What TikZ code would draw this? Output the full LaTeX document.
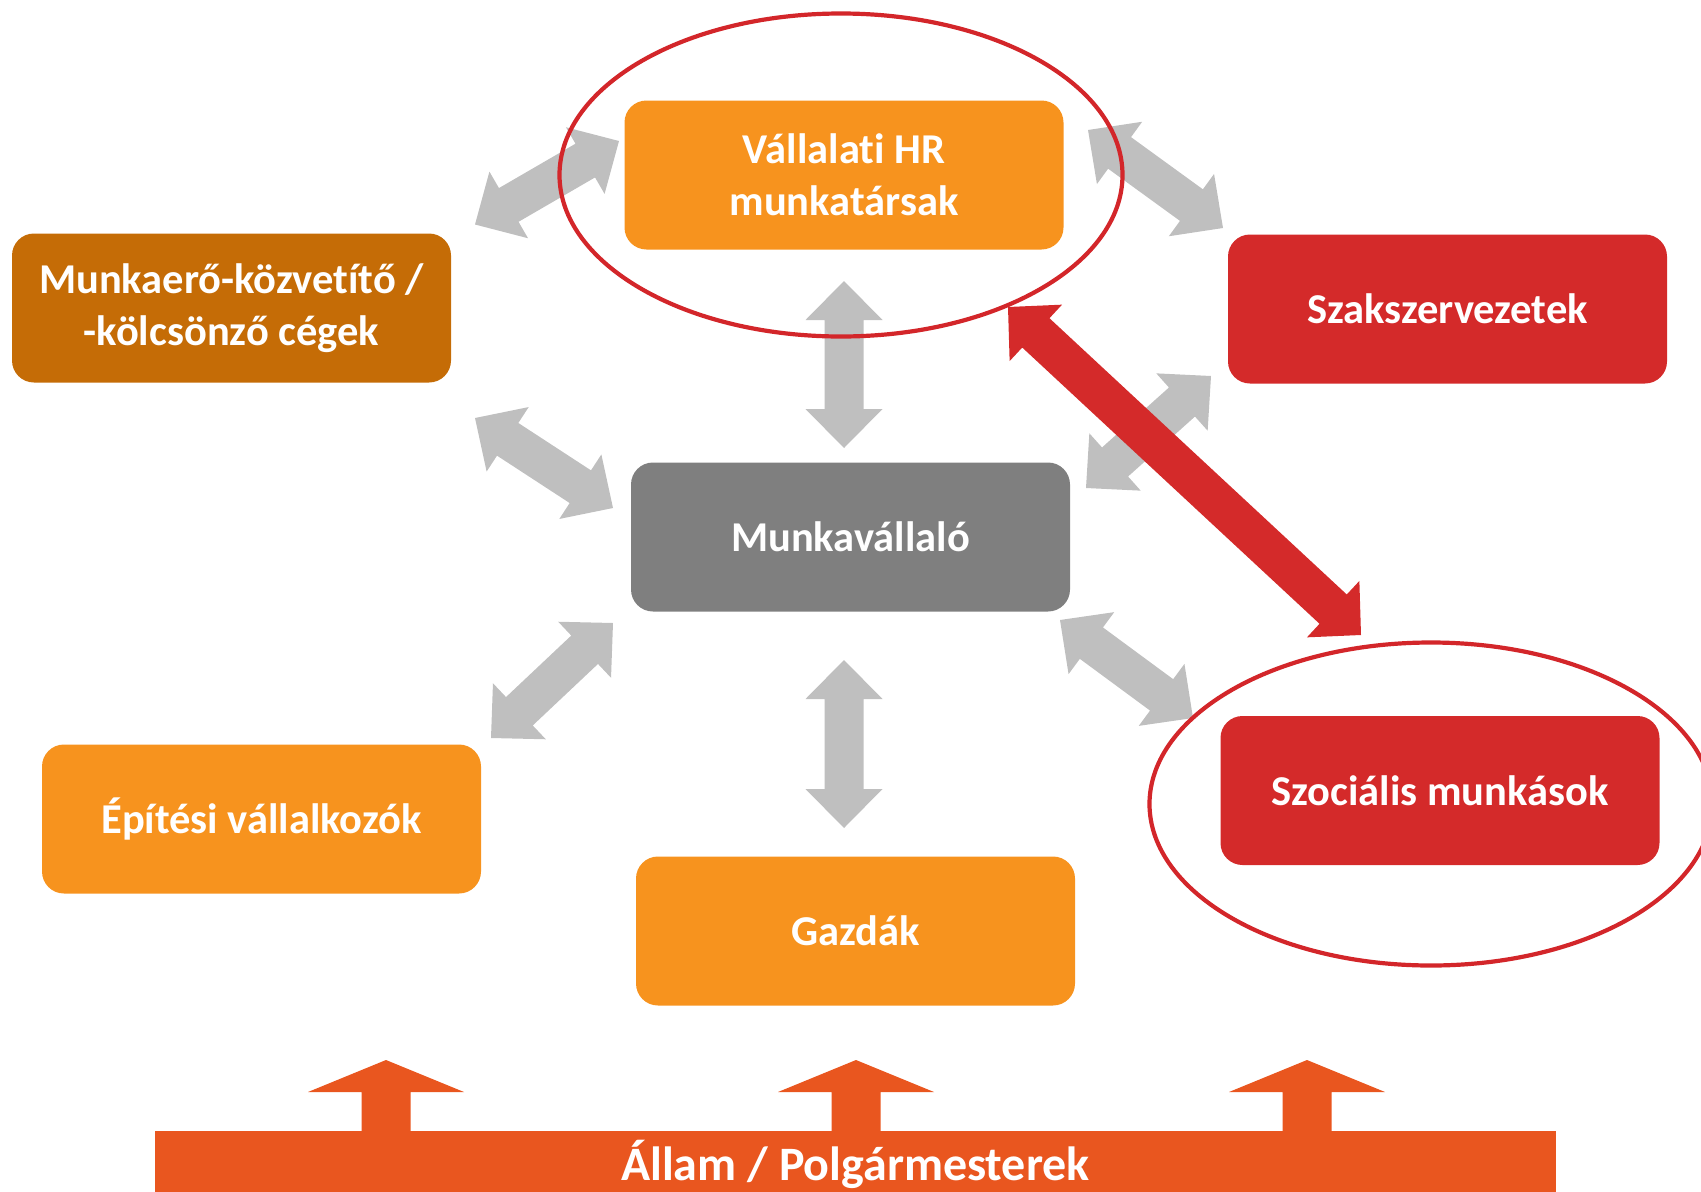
\documentclass[tikz,border=0pt]{standalone}
\usepackage{fontspec}
\setmainfont{Carlito}[Ligatures=NoCommon]
\usetikzlibrary{calc}
\definecolor{boxorange}{HTML}{F7931E}
\definecolor{boxbrown}{HTML}{C56C06}
\definecolor{boxred}{HTML}{D42A2A}
\definecolor{boxgray}{HTML}{7F7F7F}
\definecolor{arrowgray}{HTML}{BFBFBF}
\definecolor{barorange}{HTML}{E9561F}
\definecolor{ringred}{HTML}{D3262A}
\tikzset{
  box/.style={rectangle, rounded corners=22pt, minimum width=439pt, minimum height=149pt,
    text=white, align=center, font=\bfseries\fontsize{42.5}{52}\selectfont},
  ring/.style={draw=ringred, line width=4.2pt},
}
% double block arrow: ends #1 #2, shaft half width #3, head half width #4, head length #5, colour #6
\newcommand{\twoway}[6]{%
  \coordinate (tw1) at ($(#1)!#5!(#2)$);
  \coordinate (tw2) at ($(#2)!#5!(#1)$);
  \fill[#6] (#1) -- ($(tw1)!#4!90:(#2)$) -- ($(tw1)!#3!90:(#2)$) -- ($(tw2)!#3!-90:(#1)$)
    -- ($(tw2)!#4!-90:(#1)$) -- (#2) -- ($(tw2)!#4!90:(#1)$) -- ($(tw2)!#3!90:(#1)$)
    -- ($(tw1)!#3!-90:(#2)$) -- ($(tw1)!#4!-90:(#2)$) -- cycle;}
\begin{document}
\begin{tikzpicture}[x=1pt,y=-1pt]
\useasboundingbox (0,0) rectangle (1701,1192);
% boxes
\node at (844,175) [box, fill=boxorange] (hr) {Vállalati HR\\munkatársak};
\node at (231.5,308) [box, fill=boxbrown] (agency) {Munkaerő-közvetítő /\\-kölcsönző cégek};
\node at (1447.5,309) [box, fill=boxred] (union) {Szakszervezetek};
\node at (850.5,537) [box, fill=boxgray] (worker) {Munkavállaló};
\node at (261.5,819) [box, fill=boxorange] (builder) {Építési vállalkozók};
\node at (855.5,931) [box, fill=boxorange] (farmer) {Gazdák};
\node at (1440,790.5) [box, fill=boxred] (social) {Szociális munkások};
% arrow ends
\coordinate (hw-a) at (844,281);    \coordinate (hw-b) at (844,448);
\coordinate (wf-a) at (844,660);    \coordinate (wf-b) at (844,828);
\coordinate (ha-a) at (475,224.5);  \coordinate (ha-b) at (619,141);
\coordinate (hu-a) at (1088,130);   \coordinate (hu-b) at (1223,228);
\coordinate (aw-a) at (475,418);    \coordinate (aw-b) at (613,508);
\coordinate (uw-a) at (1211,376);   \coordinate (uw-b) at (1086,488);
\coordinate (wb-a) at (613,623);    \coordinate (wb-b) at (491,738);
\coordinate (ws-a) at (1060,620);   \coordinate (ws-b) at (1193,718);
\coordinate (hs-a) at (1008,307);   \coordinate (hs-b) at (1361,635);
% grey arrows
\foreach \e in {hw,wf,ha,hu,aw,uw,wb,ws}
  \twoway{\e-a}{\e-b}{19.5pt}{38.5pt}{39pt}{arrowgray};
% red arrow
\twoway{hs-a}{hs-b}{20pt}{38.5pt}{38pt}{boxred}
% rings
\draw[ring] (841,175) ellipse [x radius=281.5pt, y radius=161.5pt];
\draw[ring] (1431,804) ellipse [x radius=281.5pt, y radius=161.5pt];
% state bar
\fill[barorange] (155,1131) rectangle (1556,1200);
\foreach \ux in {386,856,1307}
  \fill[barorange] (\ux-24.5,1132) -- (\ux-24.5,1092) -- (\ux-78,1092) -- (\ux,1060)
    -- (\ux+78,1092) -- (\ux+24.5,1092) -- (\ux+24.5,1132) -- cycle;
\node[anchor=base, text=white, font=\bfseries\fontsize{48}{56}\selectfont] at (855.5,1180) (state) {Állam / Polgármesterek};
\end{tikzpicture}
\end{document}
